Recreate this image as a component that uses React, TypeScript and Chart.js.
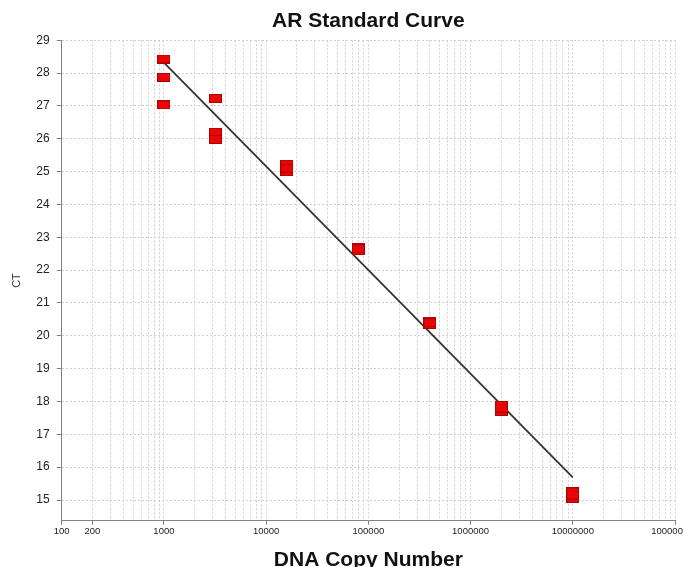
import React, { useEffect, useRef } from "react";
import { Chart, registerables } from "chart.js";

Chart.register(...registerables);

const chartTitle = "AR Standard Curve";
const xAxisTitle = "DNA Copy Number";
const yAxisTitle = "CT";

// Standards (copy number) and their replicate CT values
const copyNumbers = [
  1000, 1000, 1000,
  3200, 3200, 3200,
  16000, 16000, 16000,
  80000, 80000, 80000,
  400000, 400000, 400000,
  2000000, 2000000, 2000000,
  10000000, 10000000, 10000000,
];
const ctValues = [
  28.43, 27.87, 27.03,
  27.23, 26.2, 25.98,
  25.23, 25.0, 25.1,
  22.7, 22.6, 22.65,
  20.45, 20.35, 20.4,
  17.88, 17.7, 17.8,
  15.25, 15.05, 15.15,
];

// Regression (standard curve) end points
const fitX = [1000, 10000000];
const fitY = [28.32, 15.69];

// Axis definitions
const xMin = 100;
const xMax = 100000000;
const xDecades = [100, 1000, 10000, 100000, 1000000, 10000000];
const xMultipliers = [1, 2, 3, 4, 5, 6, 7, 8, 9];
const xTickLabelValues = [100, 200, 1000, 10000, 100000, 1000000, 10000000, 100000000];
const yMin = 14.37;
const yMax = 29;
const yStep = 1;

const FONT = "'Liberation Sans', Arial, Helvetica, sans-serif";

function makePointImage(): HTMLCanvasElement {
  const c = document.createElement("canvas");
  c.width = 13;
  c.height = 9;
  const g = c.getContext("2d")!;
  g.fillStyle = "#b00000";
  g.fillRect(0, 0, 13, 9);
  g.fillStyle = "#e80606";
  g.fillRect(1, 1, 11, 7);
  return c;
}

export default function App() {
  const ref = useRef<HTMLCanvasElement | null>(null);

  useEffect(() => {
    if (!ref.current) return;
    const pointImg = makePointImage();
    const gridValues: number[] = [];
    xDecades.forEach((d) => xMultipliers.forEach((m) => gridValues.push(d * m)));
    gridValues.push(xMax);
    const isLabeled = (v: number) => xTickLabelValues.some((t) => Math.abs(t - v) < 1e-6 * t);

    const chart = new Chart(ref.current, {
      type: "scatter",
      data: {
        datasets: [
          {
            type: "line",
            data: fitX.map((x, i) => ({ x, y: fitY[i] })),
            borderColor: "#333333",
            borderWidth: 1.8,
            pointRadius: 0,
            fill: false,
            order: 2,
          } as any,
          {
            type: "scatter",
            data: copyNumbers.map((x, i) => ({ x, y: ctValues[i] })),
            pointStyle: pointImg,
            order: 1,
          } as any,
        ],
      },
      options: {
        responsive: false,
        devicePixelRatio: 1,
        animation: false,
        layout: { padding: { left: 0, right: 45, top: 0, bottom: 0 } },
        plugins: {
          legend: { display: false },
          tooltip: { enabled: false },
          title: {
            display: true,
            text: chartTitle,
            fullSize: false,
            color: "#111111",
            font: { family: FONT, size: 21, weight: "bold" },
            padding: { top: 9, bottom: 6.1 },
          },
        },
        scales: {
          x: {
            type: "logarithmic",
            min: xMin,
            max: xMax,
            afterBuildTicks: (scale: any) => {
              scale.ticks = gridValues.map((v) => ({ value: v }));
            },
            afterFit: (scale: any) => {
              scale.height = 46.3;
            },
            ticks: {
              autoSkip: false,
              maxRotation: 0,
              minRotation: 0,
              padding: 1,
              color: "#222222",
              font: { family: FONT, size: 9.5 },
              callback: (v: any) => (isLabeled(Number(v)) ? String(v) : ""),
            },
            grid: {
              color: "#d0d0d0",
              lineWidth: 1,
              drawTicks: true,
              tickLength: 4,
              tickColor: (ctx: any) => (ctx.tick && isLabeled(ctx.tick.value) ? "#808080" : "rgba(0,0,0,0)"),
            },
            border: { display: true, color: "#808080", width: 1, dash: [2, 2] },
            title: {
              display: true,
              text: xAxisTitle,
              color: "#111111",
              font: { family: FONT, size: 21, weight: "bold" },
              padding: { top: 0, bottom: -6 },
            },
          },
          y: {
            type: "linear",
            min: yMin,
            max: yMax,
            afterFit: (scale: any) => {
              scale.width = 61.7;
            },
            ticks: {
              stepSize: yStep,
              includeBounds: false,
              padding: 7,
              color: "#222222",
              font: { family: FONT, size: 12 },
            },
            grid: {
              color: "#d0d0d0",
              lineWidth: 1,
              drawTicks: true,
              tickLength: 5,
              tickColor: "#808080",
            },
            border: { display: true, color: "#808080", width: 1, dash: [2, 2] },
            title: {
              display: true,
              text: yAxisTitle,
              color: "#333333",
              font: { family: FONT, size: 11 },
              padding: { top: 10, bottom: 0 },
            },
          },
        },
      },
    });
    return () => chart.destroy();
  }, []);

  return (
    <div
      style={{
        position: "fixed",
        left: 0,
        top: 0,
        width: 683,
        height: 567,
        overflow: "hidden",
        background: "#ffffff",
      }}
    >
      <canvas ref={ref} width={720} height={567} style={{ display: "block", width: 720, height: 567 }} />
    </div>
  );
}
